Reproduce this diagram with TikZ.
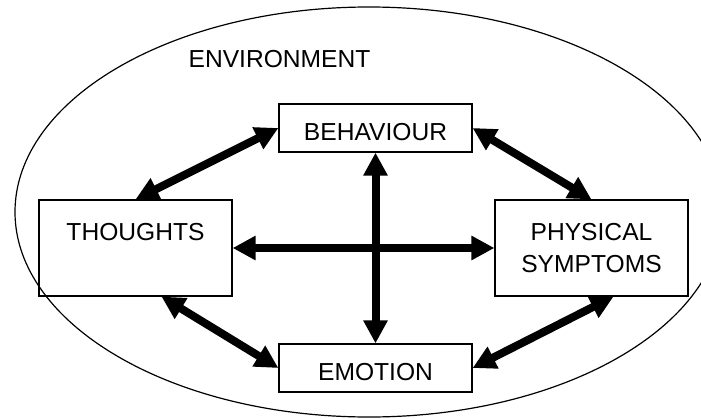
\documentclass[tikz,border=0pt]{standalone}
\usepackage{fontspec}
\setmainfont{Liberation Sans}
\usetikzlibrary{arrows.meta}

\begin{document}
\begin{tikzpicture}[x=0.5pt,y=-0.5pt,
    stage/.style={draw,line width=0.6pt,inner sep=0pt,minimum width=96.5pt,minimum height=24pt,
      align=center,font=\fontsize{12.3}{16}\selectfont},
    smallstage/.style={stage,text height=12pt,text depth=0pt},
    bigstage/.style={stage,minimum height=48pt},
    link/.style={line width=4pt,{Triangle[length=11.5pt,width=11.5pt]}-{Triangle[length=11.5pt,width=11.5pt]}}]
  \useasboundingbox (0,0) rectangle (701,418);
  \draw[line width=0.6pt] (369,212) ellipse [x radius=354,y radius=205];
  \node[font=\fontsize{12.3}{16}\selectfont] at (279.5,59.5) (env) {ENVIRONMENT};
  \node[smallstage] at (375.5,128) (behaviour) {BEHAVIOUR};
  \node[bigstage] at (135.5,248) (thoughts) {THOUGHTS\\~};
  \node[bigstage] at (591.5,248) (physical) {PHYSICAL\\SYMPTOMS};
  \node[smallstage] at (375.5,368) (emotion) {EMOTION};
  \draw[link] (thoughts.north) -- (behaviour.west);
  \draw[link] (behaviour.east) -- (physical.north);
  \draw[link] ([xshift=13pt]thoughts.south) -- (emotion.west);
  \draw[link] ([xshift=11pt]physical.south) -- (emotion.east);
  \draw[link] (behaviour.south) -- (emotion.north);
  \draw[link] (thoughts.east) -- (physical.west);
\end{tikzpicture}
\end{document}
